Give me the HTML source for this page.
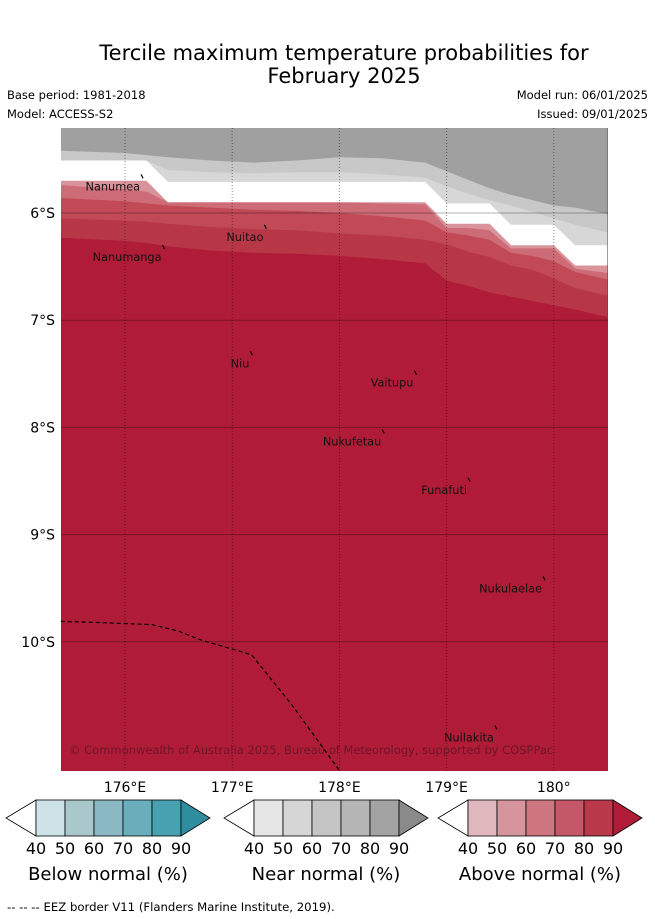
<!DOCTYPE html>
<html><head><meta charset="utf-8">
<style>
body{margin:0;background:#fff;font-family:"DejaVu Sans","Liberation Sans",sans-serif;}
#root{position:relative;width:655px;height:919px;overflow:hidden;}
</style></head>
<body>
<div id="root">
<svg id="svg" width="655" height="919" xmlns="http://www.w3.org/2000/svg" style="position:absolute;left:0;top:0" font-family="DejaVu Sans, Liberation Sans, sans-serif">
  <text x="344" y="60" font-size="21" text-anchor="middle">Tercile maximum temperature probabilities for</text>
  <text x="344" y="83" font-size="21" text-anchor="middle">February 2025</text>
  <text x="7" y="99" font-size="11.5">Base period: 1981-2018</text>
  <text x="7" y="118" font-size="11.5">Model: ACCESS-S2</text>
  <text x="648" y="99" font-size="11.5" text-anchor="end">Model run: 06/01/2025</text>
  <text x="648" y="118" font-size="11.5" text-anchor="end">Issued: 09/01/2025</text>
  <defs><clipPath id="mapclip"><rect x="61" y="128" width="547" height="643"/></clipPath></defs>
  <g id="map" clip-path="url(#mapclip)"></g>
  <g id="axes"></g>
  <g id="legend"></g>
  <text x="7" y="911" font-size="11.7">--  --  -- EEZ border V11 (Flanders Marine Institute, 2019).</text>
</svg>
</div>
<script>
// ---- data ----
const lons = [175.4,176.0,176.2,176.4,176.8,177.2,177.6,178.0,178.4,178.8,179.0,179.2,179.4,179.6,179.8,180.0,180.2,180.5];
const nearGray90 = [-5.42,-5.44,-5.46,-5.48,-5.51,-5.53,-5.51,-5.48,-5.49,-5.53,-5.61,-5.69,-5.77,-5.83,-5.88,-5.93,-5.95,-6.01];
const nearGray70 = [-5.51,-5.51,-5.51,-5.60,-5.62,-5.63,-5.62,-5.62,-5.64,-5.67,-5.75,-5.82,-5.88,-5.93,-5.99,-6.05,-6.11,-6.18];
const nearGray50 = [-5.51,-5.51,-5.51,-5.71,-5.71,-5.71,-5.71,-5.71,-5.71,-5.71,-5.91,-5.91,-5.91,-6.11,-6.11,-6.11,-6.30,-6.30];
const whiteEdge = [-5.70,-5.70,-5.70,-5.90,-5.90,-5.90,-5.90,-5.90,-5.90,-5.90,-6.10,-6.10,-6.10,-6.30,-6.30,-6.30,-6.49,-6.49];
const above50 = [-5.74,-5.78,-5.80,-5.90,-5.90,-5.90,-5.90,-5.90,-5.91,-5.92,-6.14,-6.14,-6.16,-6.33,-6.33,-6.33,-6.52,-6.56];
const above60 = [-5.86,-5.89,-5.91,-5.93,-5.95,-5.97,-5.98,-6.00,-6.03,-6.07,-6.18,-6.21,-6.25,-6.37,-6.40,-6.45,-6.55,-6.62];
const above70 = [-6.05,-6.07,-6.08,-6.10,-6.13,-6.15,-6.16,-6.19,-6.21,-6.25,-6.29,-6.36,-6.41,-6.49,-6.53,-6.61,-6.70,-6.77];
const above80 = [-6.23,-6.26,-6.28,-6.31,-6.35,-6.37,-6.38,-6.40,-6.43,-6.47,-6.63,-6.68,-6.74,-6.78,-6.82,-6.86,-6.90,-6.97];
const lonTicks = [176,177,178,179,180];
const lonTickLabels = ["176°E","177°E","178°E","179°E","180°"];
const latTicks = [-6,-7,-8,-9,-10];
const latTickLabels = ["6°S","7°S","8°S","9°S","10°S"];
const islandNames = ["Nanumea","Nuitao","Nanumanga","Niu","Vaitupu","Nukufetau","Funafuti","Nukulaelae","Nuilakita"];
const islandLons = [176.15,177.3,176.35,177.17,178.7,178.4,179.2,179.9,179.45];
const islandLats = [-5.64,-6.11,-6.30,-7.29,-7.47,-8.02,-8.47,-9.39,-10.78];
const eezLons = [175.4,175.75,176.25,176.5,176.7,177.18,177.55,178.0];
const eezLats = [-9.81,-9.82,-9.84,-9.9,-9.98,-10.12,-10.58,-11.2];
const legendTicks = ["40","50","60","70","80","90"];
const legendTitles = ["Below normal (%)","Near normal (%)","Above normal (%)"];

// ---- axis functions ----
const X = lon => 125 + (lon - 176) * 107.2;
const Y = lat => 213 + (-6 - lat) * 107.2;
const NS = "http://www.w3.org/2000/svg";
function mk(tag, attrs, parent){const e=document.createElementNS(NS,tag);for(const k in attrs)e.setAttribute(k,attrs[k]);parent.appendChild(e);return e;}

const map = document.getElementById('map');
const bg = mk('rect',{x:61,y:128,width:547,height:643,fill:'#b01c37'},map);



const layers = [
  [above80,'#b83746','above-normal-80-band'],
  [above70,'#c24a57','above-normal-70-band'],
  [above60,'#cd6c76','above-normal-60-band'],
  [above50,'#d9939b','above-normal-50-band'],
  [whiteEdge,'#ffffff','no-dominant-band'],
  [nearGray50,'#d7d7d7','near-normal-50-band'],
  [nearGray70,'#c8c8c8','near-normal-70-band'],
  [nearGray90,'#a0a0a0','near-normal-80-band']
];
layers.forEach(([arr,col,name])=>{
  let d = 'M' + X(lons[0]) + ',120';
  lons.forEach((lo,i)=>{ d += ' L' + X(lo).toFixed(1) + ',' + Y(arr[i]).toFixed(1); });
  d += ' L' + X(lons[lons.length-1]) + ',120 Z';
  const p = mk('path',{d:d,fill:col},map);
  
  
});

lonTicks.forEach(lo=>{
  const l = mk('line',{x1:X(lo),x2:X(lo),y1:128,y2:771,stroke:'rgba(0,0,0,0.45)','stroke-width':1,'stroke-dasharray':'1,2'},map);
  
  
});
latTicks.forEach(la=>{
  const l = mk('line',{x1:61,x2:608,y1:Y(la),y2:Y(la),stroke:'rgba(0,0,0,0.3)','stroke-width':1},map);
  
  
});

let ed='';
eezLons.forEach((lo,i)=>{ ed += (i?' L':'M') + X(lo).toFixed(1)+','+Y(eezLats[i]).toFixed(1); });
const eez = mk('path',{d:ed,fill:'none',stroke:'#000','stroke-width':1.2,'stroke-dasharray':'4,3'},map);



islandNames.forEach((n,i)=>{
  const ix = X(islandLons[i]), iy = Y(islandLats[i]);
  const m = mk('line',{x1:ix,y1:iy,x2:ix+2,y2:iy+4,stroke:'#000','stroke-width':1.2},map);
  
  
  const t = mk('text',{x:ix-1,y:iy+16,'font-size':11.3,'text-anchor':'end',fill:'#111'},map);
  t.textContent = n;
  
  
});

const cp = mk('text',{x:69,y:754,'font-size':11.5,fill:'rgba(90,20,35,0.8)'},map);
cp.textContent = '© Commonwealth of Australia 2025, Bureau of Meteorology, supported by COSPPac';



const axes = document.getElementById('axes');
lonTicks.forEach((lo,i)=>{
  const t = mk('text',{x:X(lo),y:792,'font-size':14,'text-anchor':'middle'},axes);
  t.textContent = lonTickLabels[i];
  
  
});
latTicks.forEach((la,i)=>{
  const t = mk('text',{x:55,y:Y(la)+5,'font-size':14,'text-anchor':'end'},axes);
  t.textContent = latTickLabels[i];
  
  
});

const legend = document.getElementById('legend');
const palettes = [
  ['#cde3e8','#a8c8cc','#8ab8c3','#6aaebc','#48a1b1','#2e8ea0'],
  ['#e6e6e6','#d6d6d6','#c5c5c5','#b5b5b5','#a3a3a3','#8a8a8a'],
  ['#e0b9be','#d6959c','#cd767f','#c55868','#b9394b','#b01c37']
];
const starts = [36,254,468];
palettes.forEach((pal,k)=>{
  const x0 = starts[k], w = 29, y0 = 800, h = 36;
  const g = mk('g',{},legend);
  
  
  mk('polygon',{points:`${x0},${y0} ${x0-30},${y0+h/2} ${x0},${y0+h}`,fill:'#fff',stroke:'#000','stroke-width':0.8},g);
  for(let i=0;i<5;i++) mk('rect',{x:x0+i*w,y:y0,width:w,height:h,fill:pal[i],stroke:'#000','stroke-width':0.8},g);
  const xe = x0+5*w;
  mk('polygon',{points:`${xe},${y0} ${xe+29},${y0+h/2} ${xe},${y0+h}`,fill:pal[5],stroke:'#000','stroke-width':0.8},g);
  legendTicks.forEach((tk,i)=>{
    const t = mk('text',{x:x0+i*w,y:854,'font-size':16,'text-anchor':'middle'},g);
    t.textContent = tk;
    
    
  });
  const tt = mk('text',{x:x0+72,y:880,'font-size':18,'text-anchor':'middle'},g);
  tt.textContent = legendTitles[k];
  
  
});
</script>
</body></html>
